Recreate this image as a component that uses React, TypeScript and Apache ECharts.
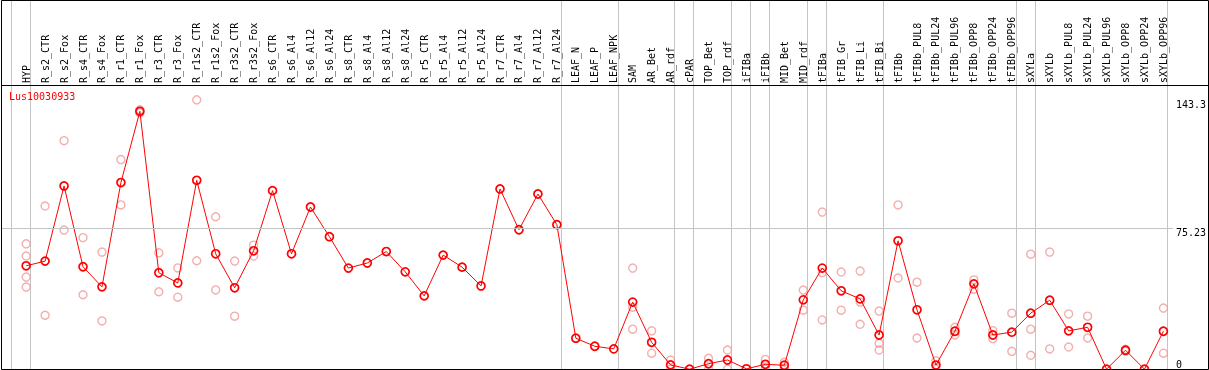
import React, { useEffect, useRef } from 'react';
import * as echarts from 'echarts';

const geneId = 'Lus10030933';

const categories = [
  'HYP', 'R_s2_CTR', 'R_s2_Fox', 'R_s4_CTR', 'R_s4_Fox', 'R_r1_CTR', 'R_r1_Fox', 'R_r3_CTR', 'R_r3_Fox',
  'R_r1s2_CTR', 'R_r1s2_Fox', 'R_r3s2_CTR', 'R_r3s2_Fox', 'R_s6_CTR', 'R_s6_Al4', 'R_s6_Al12', 'R_s6_Al24',
  'R_s8_CTR', 'R_s8_Al4', 'R_s8_Al12', 'R_s8_Al24', 'R_r5_CTR', 'R_r5_Al4', 'R_r5_Al12', 'R_r5_Al24',
  'R_r7_CTR', 'R_r7_Al4', 'R_r7_Al12', 'R_r7_Al24', 'LEAF_N', 'LEAF_P', 'LEAF_NPK', 'SAM', 'AR_Bet', 'AR_rdf',
  'cPAR', 'TOP_Bet', 'TOP_rdf', 'iFIBa', 'iFIBb', 'MID_Bet', 'MID_rdf', 'tFIBa', 'tFIB_Gr', 'tFIB_Li', 'tFIB_Bi',
  'tFIBb', 'tFIBb_PUL8', 'tFIBb_PUL24', 'tFIBb_PUL96', 'tFIBb_OPP8', 'tFIBb_OPP24', 'tFIBb_OPP96',
  'sXYLa', 'sXYLb', 'sXYLb_PUL8', 'sXYLb_PUL24', 'sXYLb_PUL96', 'sXYLb_OPP8', 'sXYLb_OPP24', 'sXYLb_OPP96',
];

const means = [
  55.0, 57.5, 97.5, 54.5, 43.8, 99.3, 137.2, 51.3, 45.9,
  100.5, 61.4, 43.3, 63.0, 95.0, 61.4, 86.3, 70.5,
  53.8, 56.5, 62.6, 51.8, 39.0, 60.7, 54.3, 44.3,
  95.9, 74.2, 93.2, 76.9, 16.5, 12.2, 10.8, 35.7, 14.3, 2.3,
  0, 2.9, 4.9, 0.2, 2.6, 2.1, 36.9, 53.8, 41.7, 37.4, 18.2,
  68.3, 31.6, 2.2, 20.2, 45.4, 18.2, 19.7,
  29.8, 36.7, 20.4, 22.3, 0, 10.1, 0, 20.2,
];

const replicates: number[][] = [
  [66.7, 60.2, 49.0, 43.7], [86.8, 28.7], [121.6, 74.0], [70.0, 39.6], [62.3, 25.7], [111.5, 87.4], [138.0, 136.4], [61.9, 41.2], [53.9, 38.3],
  [143.3, 57.7], [81.1, 42.2], [57.5, 28.2], [66.0, 60.2], [], [], [], [],
  [], [], [], [], [], [], [], [],
  [], [], [], [], [], [], [], [53.8, 33.0, 21.3], [20.4, 8.5], [4.9, 0],
  [], [5.8, 0], [10.2, 0], [], [5.2, 0], [3.7, 0.5], [42.1, 31.4], [83.6, 51.4, 26.2], [51.7, 31.4], [52.2, 35.7, 23.9], [30.9, 13.8, 10.2],
  [87.4, 48.5], [46.3, 16.6], [4.5, 0], [22.3, 18.2], [47.5, 42.6], [20.5, 16.3], [29.8, 9.5],
  [61.2, 21.3, 7.4], [62.3, 10.8], [29.4, 11.8], [28.2, 16.6], [], [10.6, 9.6], [], [32.5, 8.5],
];

// index of the last category of each sample group (-1 = before the first group)
const groupEnds = [-1, 0, 28, 31, 34, 35, 37, 38, 39, 41, 42, 45, 52, 53, 60];

const yTickLabels = [143.3, 75.23];
const yZeroLabel = [0];

export default function App() {
  const ref = useRef<HTMLDivElement>(null);

  useEffect(() => {
    if (!ref.current) return;
    const chart = echarts.init(ref.current, null, { renderer: 'svg' });
    const font = '"DejaVu Sans Mono", monospace';

    const repData: number[][] = [];
    replicates.forEach((arr, i) => arr.forEach((v) => repData.push([i, v])));

    const yAxisBase = {
      type: 'value',
      min: 0,
      max: 151.2,
      position: 'right',
      axisLine: { show: false },
      axisTick: { show: false },
      splitLine: { show: false },
    };

    chart.setOption({
      animation: false,
      title: {
        text: geneId,
        left: 9,
        top: 91,
        padding: 0,
        textStyle: { color: '#ff0000', fontSize: 10, fontWeight: 'normal', fontFamily: font },
      },
      grid: { left: 1.5, right: 33.3, top: 85, bottom: 0.8 },
      xAxis: {
        type: 'value',
        min: -1.3,
        max: 60.5,
        position: 'top',
        axisLine: { show: false },
        axisTick: { show: false },
        splitLine: { show: false },
        axisLabel: {
          customValues: categories.map((_, i) => i),
          formatter: (v: number) => categories[Math.round(v)] ?? '',
          rotate: 90,
          margin: 2,
          fontSize: 10,
          fontFamily: font,
          color: '#000',
        },
      },
      yAxis: [
        {
          ...yAxisBase,
          axisLabel: {
            customValues: yTickLabels,
            formatter: (v: number) => String(v),
            verticalAlign: 'top',
            margin: 3,
            fontSize: 10,
            fontFamily: font,
            color: '#000',
          },
        },
        {
          ...yAxisBase,
          axisLabel: {
            customValues: yZeroLabel,
            formatter: (v: number) => String(v),
            verticalAlign: 'bottom',
            margin: 3,
            fontSize: 10,
            fontFamily: font,
            color: '#000',
          },
        },
      ],
      series: [
        {
          type: 'custom',
          clip: false,
          silent: true,
          z: 1,
          data: groupEnds.map((g) => [g + 0.23, 0]),
          encode: { x: 0, y: 1 },
          renderItem: (params: any, api: any) => {
            const p = api.coord([api.value(0), 0]);
            const x = Math.floor(p[0]) + 0.5;
            const cs = params.coordSys;
            return {
              type: 'line',
              shape: { x1: x, y1: 0, x2: x, y2: cs.y + cs.height },
              style: { stroke: '#c4c4c4', lineWidth: 1 },
            };
          },
        },
        {
          type: 'scatter',
          data: repData,
          symbol: 'circle',
          symbolSize: 8,
          z: 2,
          silent: true,
          itemStyle: { color: 'rgba(0,0,0,0)', borderColor: '#f09a9a', borderWidth: 1.4 },
        },
        {
          type: 'line',
          data: means.map((v, i) => [i, v]),
          symbol: 'circle',
          symbolSize: 8,
          z: 3,
          silent: true,
          lineStyle: { color: '#ff0000', width: 1 },
          itemStyle: { color: 'rgba(0,0,0,0)', borderColor: '#ff0000', borderWidth: 1.7 },
          markLine: {
            silent: true,
            symbol: 'none',
            label: { show: false },
            lineStyle: { color: '#c4c4c4', width: 1, type: 'solid' },
            data: [{ yAxis: 75.23 }],
          },
        },
      ],
      graphic: [
        {
          type: 'rect',
          silent: true,
          z: 10,
          shape: { x: 1.5, y: 0.5, width: 1207, height: 369 },
          style: { fill: 'none', stroke: '#000', lineWidth: 1 },
        },
        {
          type: 'line',
          silent: true,
          z: 10,
          shape: { x1: 1.5, y1: 85.5, x2: 1208.5, y2: 85.5 },
          style: { stroke: '#000', lineWidth: 1 },
        },
      ],
    });

    return () => chart.dispose();
  }, []);

  return <div ref={ref} style={{ position: 'fixed', left: 0, top: 0, width: 1209, height: 370 }} />;
}
